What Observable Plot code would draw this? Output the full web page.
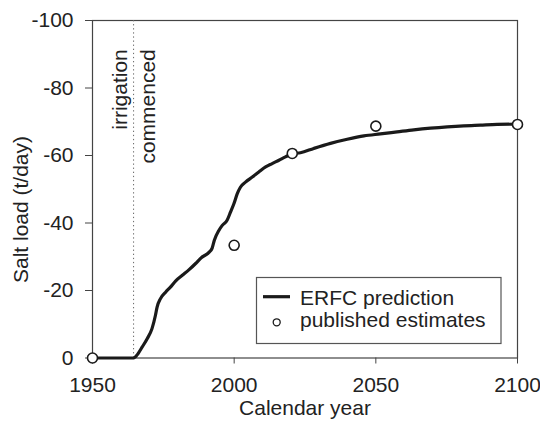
<!DOCTYPE html>
<html>
<head>
<meta charset="utf-8">
<script src="https://cdn.jsdelivr.net/npm/d3@7"></script>
<script src="https://cdn.jsdelivr.net/npm/@observablehq/plot@0.6"></script>
<style>
  html, body { margin: 0; padding: 0; background: #fff; }
  #chart svg { display: block; }
</style>
</head>
<body>
<div id="chart"></div>
<script>
// ERFC model prediction of salt load (t/day, negative = export) by calendar year
const predYears = [1950, 1964.5, 1966, 1967.5, 1969.3, 1971, 1972.2, 1972.8, 1974, 1975.8,
  1977.5, 1979.3, 1981.7, 1984, 1986.4, 1988.5, 1991, 1992.2, 1993, 1994.6,
  1995.8, 1997.5, 1998.7, 1999.9, 2001.1, 2002.2, 2004, 2006.4, 2008.7, 2011.1,
  2013.4, 2015.8, 2018.1, 2020.5, 2023.4, 2028.1, 2034, 2039.9, 2045.8, 2051.6,
  2057.5, 2063.4, 2069.3, 2075.2, 2081, 2086.9, 2092.8, 2100];
const predLoads = [0, 0, -1.2, -3.2, -5.7, -8.7, -12.6, -15.1, -17.6, -19.5,
  -21.0, -22.8, -24.5, -26.1, -28.0, -29.8, -31.2, -32.5, -34.9, -37.8,
  -39.3, -40.8, -43.2, -45.7, -48.7, -50.6, -52.1, -53.6, -55.1, -56.6,
  -57.6, -58.6, -59.6, -60.5, -60.8, -62.1, -63.6, -64.8, -65.8, -66.4,
  -67.0, -67.6, -68.1, -68.5, -68.8, -69.0, -69.2, -69.3];

// Published estimates
const estYears = [1950, 2000, 2020.5, 2050, 2100];
const estLoads = [0, -33.4, -60.6, -68.7, -69.2];

// Start of irrigation
const irrigationYear = 1964.5;
const irrigationLabel = ["irrigation", "commenced"];

const xTicks = [1950, 2000, 2050, 2100];
const yTicks = [0, -20, -40, -60, -80, -100];
const xTitle = "Calendar year";
const yTitle = "Salt load (t/day)";
const legendLabels = ["ERFC prediction", "published estimates"];

const FONT = "'Liberation Sans', Arial, Helvetica, sans-serif";
const INK = "#1a1a1a";

const prediction = predYears.map((year, i) => ({year, load: predLoads[i]}));
const estimates = estYears.map((year, i) => ({year, load: estLoads[i]}));

const chart = Plot.plot({
  width: 540,
  height: 429,
  marginLeft: 92,
  marginRight: 23,
  marginTop: 20,
  marginBottom: 71.5,
  style: {fontFamily: FONT, fontSize: "21px", background: "#fff", color: "#222"},
  x: {domain: [1950, 2100]},
  y: {domain: [0, -100]},
  marks: [
    Plot.frame({stroke: "#444", strokeWidth: 1.2}),
    Plot.axisX({ticks: xTicks, tickSize: 6, tickPadding: 13, tickFormat: d => String(d),
      label: null, fontSize: 21, stroke: "#444"}),
    Plot.axisY({ticks: yTicks, tickSize: 7, tickPadding: 12, tickFormat: d => String(d),
      label: null, fontSize: 21, stroke: "#444"}),
    Plot.ruleX([irrigationYear], {stroke: "#666", strokeWidth: 1, strokeDasharray: "1.3,2.8"}),
    // two-line note straddling the irrigation marker, read bottom to top
    Plot.text([{year: irrigationYear, load: -91.5, label: irrigationLabel.join("\n")}],
      {x: "year", y: "load", text: "label", rotate: -90, textAnchor: "end",
       lineHeight: 1.37, dx: -1.8, fontSize: 21, fill: "#222"}),
    Plot.line(prediction, {x: "year", y: "load", stroke: INK, strokeWidth: 3.2, curve: "monotone-x"}),
    Plot.dot(estimates, {x: "year", y: "load", r: 5, fill: "#fff", stroke: INK, strokeWidth: 1.6}),
    // axis titles
    Plot.text([{year: 2025, label: xTitle}],
      {x: "year", frameAnchor: "bottom", text: "label", dy: 56.8, fontSize: 21, fill: "#222"}),
    Plot.text([{year: 1950, load: -44, label: yTitle}],
      {x: "year", y: "load", text: "label", rotate: -90, dx: -71.7, fontSize: 21, fill: "#222"})
  ]
});

// Legend box inside the plot area
const svg = d3.select(chart);
const lg = svg.append("g")
  .attr("font-family", FONT).attr("font-size", 21).attr("fill", "#222")
  .attr("text-anchor", "start");
lg.append("rect")
  .attr("x", 256.5).attr("y", 277.5).attr("width", 244.5).attr("height", 66)
  .attr("fill", "#fff").attr("stroke", "#555").attr("stroke-width", 1.2);
lg.append("line")
  .attr("x1", 263).attr("x2", 290).attr("y1", 296.7).attr("y2", 296.7)
  .attr("stroke", INK).attr("stroke-width", 3.2);
lg.append("circle")
  .attr("cx", 276.7).attr("cy", 322.3).attr("r", 3.5)
  .attr("fill", "#fff").attr("stroke", INK).attr("stroke-width", 1.3);
lg.append("text").attr("x", 300).attr("y", 305).text(legendLabels[0]);
lg.append("text").attr("x", 300).attr("y", 326.7).text(legendLabels[1]);

document.getElementById("chart").appendChild(chart);
</script>
</body>
</html>
